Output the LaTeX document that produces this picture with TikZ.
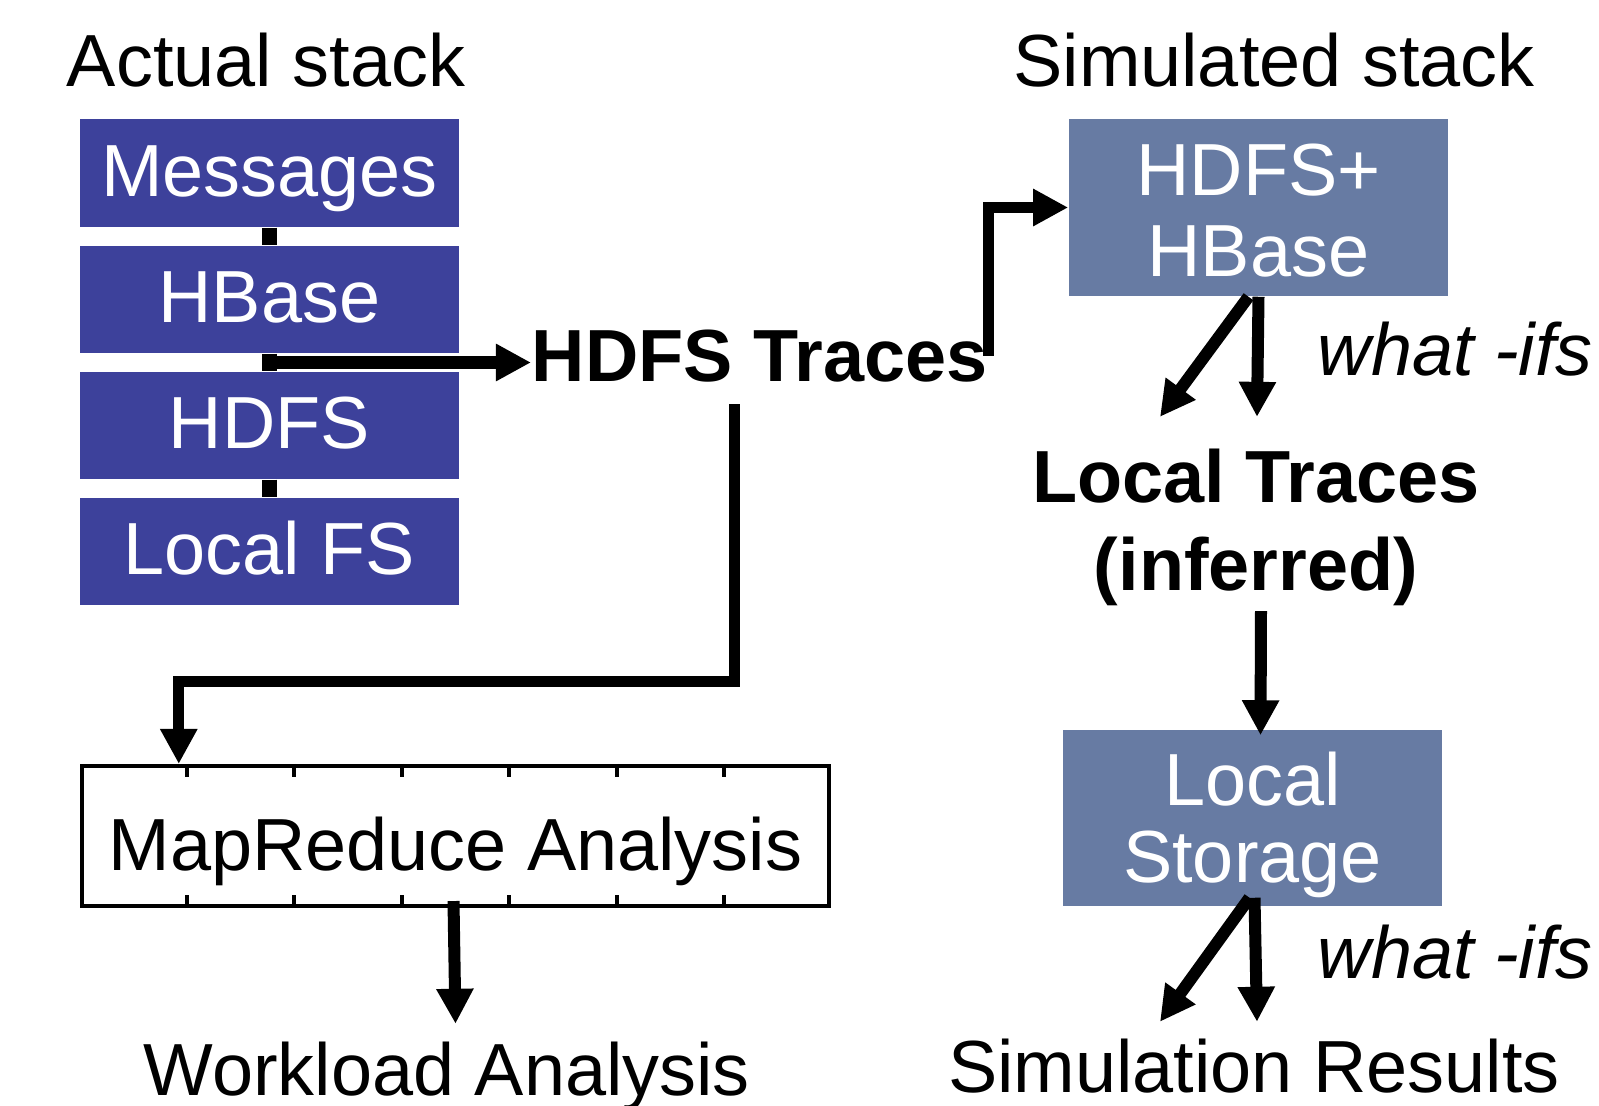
\documentclass[tikz,border=0pt]{standalone}
\usepackage{fontspec}
\setmainfont{Liberation Sans}
\usetikzlibrary{arrows.meta,calc}
\definecolor{stackblue}{HTML}{3D419B}
\definecolor{simblue}{HTML}{677BA3}
\begin{document}
\begin{tikzpicture}[x=0.01cm,y=-0.01cm,
  txt/.style={inner sep=0pt, font=\fontsize{21}{22.8}\selectfont},
  btxt/.style={inner sep=0pt, font=\fontsize{21}{25}\selectfont\bfseries},
  itxt/.style={inner sep=0pt, font=\fontsize{21}{22.8}\selectfont\itshape},
  stackbox/.style={fill=stackblue, text=white, minimum width=3.79cm, minimum height=1.07cm,
    inner sep=0pt, text height=0.6cm, text depth=0.14cm, font=\fontsize{21}{22.8}\selectfont},
  simbox/.style={fill=simblue, text=white, align=center, inner sep=0pt, minimum width=3.79cm},
  arr/.style={line width=0.12cm, -{Triangle[length=0.35cm,width=0.35cm]}},
  bar/.style={line width=0.15cm},
  mrline/.style={line width=0.04cm}]
\useasboundingbox (0,0) rectangle (1599,1106);

% headings
\node[txt, anchor=base] (acth) at (266,86) {Actual stack};
\node[txt, anchor=base] (simh) at (1274,87) {Simulated stack};

% actual stack
\node[stackbox, minimum height=1.08cm] (msg) at (269.5,173) {Messages};
\node[stackbox] (hb) at (269.5,299.5) {HBase};
\node[stackbox] (hd) at (269.5,425.5) {HDFS};
\node[stackbox] (lfs) at (269.5,551.5) {Local FS};
\draw[bar] (msg.south) -- (hb.north);
\draw[bar] (hb.south) -- (hd.north);
\draw[bar] (hd.south) -- (lfs.north);

% HDFS traces
\node[btxt, anchor=base] (tr) at (759.5,381) {HDFS Traces};
\coordinate (hbmid) at ($(hb.south)!0.5!(hd.north)$);
\draw[arr, line width=0.13cm] (hbmid) -- (hbmid -| tr.west);

% simulated stack box
\node[simbox, minimum height=1.77cm, text height=1.37cm, text depth=0cm,
  font=\fontsize{21}{22.8}\selectfont] (sim) at (1258.5,207.5) {HDFS+\\HBase};
\draw[arr, line width=0.11cm] (tr.east) |- (sim.west);

% what-ifs 1
\node[itxt, anchor=base west] (w1) at (1317,375) {what -ifs};

% local traces
\node[btxt, align=center, anchor=base] (lt) at (1256,590) {Local Traces\\(inferred)};
\coordinate (ltd) at ($(lt.north)+(-96,-31)$);
\coordinate (lts) at ($(lt.north)+(1,-31)$);
\draw[arr] ($(sim.south)+(-10,0)$) -- (ltd);
\draw[arr] (sim.south) -- (lts);

% local storage
\node[simbox, minimum height=1.76cm, text height=1.41cm, text depth=0.13cm,
  font=\fontsize{21}{21.9}\selectfont] (ls) at (1252.5,818) {Local\\Storage};
\draw[arr] ($(lt.south)+(5,5)$) -- ($(ls.north)+(8,6)$);

% what-ifs 2
\node[itxt, anchor=base west] (w2) at (1317,978) {what -ifs};

% simulation results
\node[txt, anchor=base] (sr) at (1254,1092) {Simulation Results};
\coordinate (srd) at ($(sr.north)+(-94,-16)$);
\coordinate (srs) at ($(sr.north)+(3,-16)$);
\draw[arr] ($(ls.south)+(-3,-9)$) -- (srd);
\draw[arr] ($(ls.south)+(2,-9)$) -- (srs);

% MapReduce analysis
\node[draw, mrline, minimum width=7.47cm, minimum height=1.40cm, inner sep=0pt,
  text height=0.68cm, text depth=0cm, font=\fontsize{21}{22.8}\selectfont] (mr) at (455.5,836) {MapReduce Analysis};
\foreach \k in {1,...,6} {
  \draw[mrline] ($(mr.north west)!\k/7!(mr.north east)$) -- ++(0,13);
  \draw[mrline] ($(mr.south west)!\k/7!(mr.south east)$) -- ++(0,-13);
}
\coordinate (trd) at ($(tr.south)+(-25,22)$);
\draw[arr, line width=0.11cm] (trd) -- ++(0,277) -| ($(mr.north west)+(99,0)$);

% workload analysis
\node[txt, anchor=base] (wl) at (447,1095) {Workload Analysis};
\draw[arr] ($(mr.south)+(-2,-7)$) -- ($(mr.south |- wl.north)+(0,-17)$);
\end{tikzpicture}
\end{document}
